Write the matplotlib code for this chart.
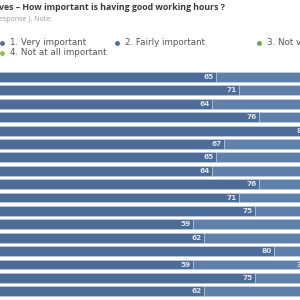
import matplotlib.pyplot as plt

# share of responses per row (top to bottom)
very_important = [65, 71, 64, 76, 89, 67, 65, 64, 76, 71, 75, 59, 62, 80, 59, 75, 62]
fairly_important = [30, 25, 31, 21, 9, 29, 30, 31, 21, 25, 22, 35, 33, 17, 30, 22, 33]

legend_labels = ['1. Very important', '2. Fairly important', '3. Not very', '4. Not at all important']
legend_colors = ['#4e6d98', '#4e6d98', '#6aa84f', '#8cc152']

dark_blue = '#4d6c97'
light_blue = '#6080ac'

fig = plt.figure(figsize=(3, 3), dpi=100)
ax = fig.add_axes([-0.1233, 0.0067, 1.2967, 0.759])

n = len(very_important)
y = list(range(n))
ax.barh(y, very_important, height=0.74, color=dark_blue, edgecolor='#c5d0de', linewidth=0.4)
ax.barh(y, fairly_important, left=very_important, height=0.74, color=light_blue,
        edgecolor='#c5d0de', linewidth=0.4)

for i in range(n):
    v1 = very_important[i]
    v2 = fairly_important[i]
    ax.text(v1 - 0.6, i, str(v1), ha='right', va='center', fontsize=5.3,
            color='#dde4ee', fontweight='bold')
    # labels of the second segment mostly fall outside the visible area
    ax.text(v1 + v2 - 0.6, i, str(v2), ha='right', va='center', fontsize=5.3,
            color='#dde4ee', fontweight='bold', clip_on=True)

ax.set_xlim(0, 100)
ax.set_ylim(n - 0.5, -0.5)
ax.axis('off')

# header texts
fig.text(-0.002, 0.976, 'ves \u2013 How important is having good working hours ?',
         fontsize=6.35, color='#3a3a3a', fontweight='bold', family='Open Sans',
         ha='left', va='center')
fig.text(-0.003, 0.935, 'esponse ). Note:', fontsize=5, color='#999999',
         family='Open Sans', ha='left', va='center')

# legend
leg_pos = [(0.007, 0.858), (0.39, 0.858), (0.863, 0.858), (0.007, 0.825)]
for (lx, ly), lab, col in zip(leg_pos, legend_labels, legend_colors):
    fig.lines.append(plt.Line2D([lx], [ly], marker='o', markersize=2.5, color=col,
                                transform=fig.transFigure, linestyle='none'))
    fig.text(lx + 0.027, ly, lab, fontsize=6.3, color='#555555', ha='left', va='center')

fig.savefig('out.png', dpi=100)
